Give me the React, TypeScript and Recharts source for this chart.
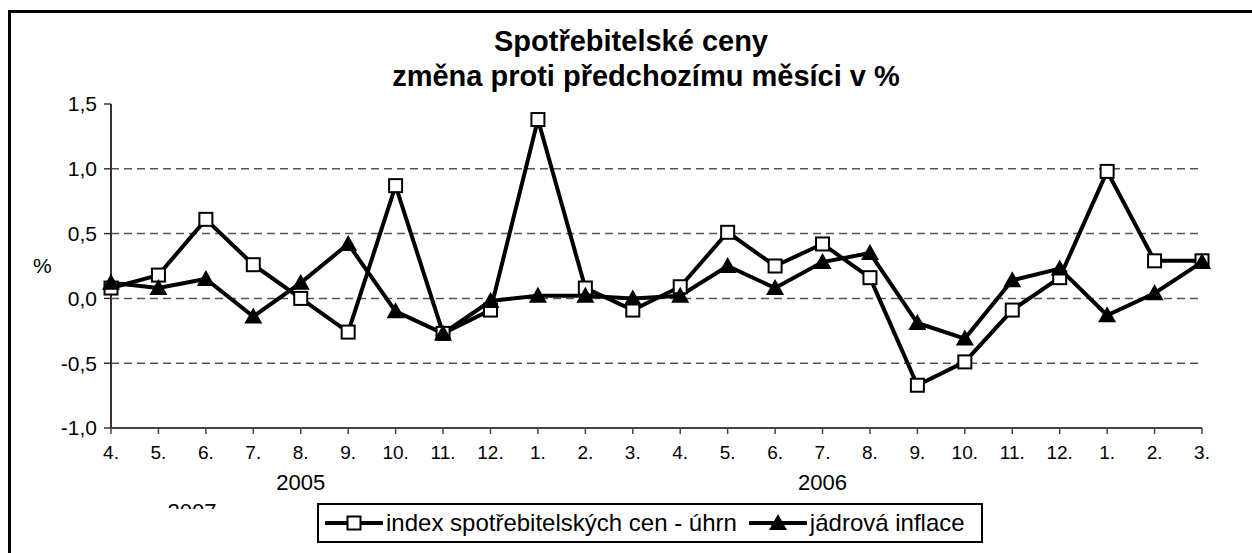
import React from 'react';
import { LineChart, Line, XAxis, YAxis, CartesianGrid } from 'recharts';

const MONTHS = ['4.', '5.', '6.', '7.', '8.', '9.', '10.', '11.', '12.', '1.', '2.', '3.', '4.', '5.', '6.', '7.', '8.', '9.', '10.', '11.', '12.', '1.', '2.', '3.'];
const CPI = [0.08, 0.18, 0.61, 0.26, 0.0, -0.26, 0.87, -0.27, -0.09, 1.38, 0.08, -0.09, 0.09, 0.51, 0.25, 0.42, 0.16, -0.67, -0.49, -0.09, 0.16, 0.98, 0.29, 0.29];
const CORE = [0.12, 0.08, 0.15, -0.14, 0.12, 0.42, -0.1, -0.27, -0.02, 0.02, 0.02, 0.0, 0.02, 0.25, 0.08, 0.28, 0.35, -0.19, -0.31, 0.14, 0.23, -0.13, 0.04, 0.28];
const Y_TICKS = [-1, -0.5, 0, 0.5, 1, 1.5];
const GRID_VALUES = [-0.5, 0, 0.5, 1];
// year caption under the month tick with this index
const YEAR_LABELS: Record<number, string> = { 4: '2005', 15: '2006' };
const SERIES_NAMES = ['index spotřebitelských cen - úhrn', 'jádrová inflace'];

const FONT = '"Liberation Sans", Arial, sans-serif';

const data = MONTHS.map((m, i) => ({ key: `${i}`, month: m, cpi: CPI[i], core: CORE[i] }));

const fmt = (v: number) => v.toFixed(1).replace('.', ',');

const SquareDot = (props: any) => {
  const { cx, cy } = props;
  if (cx == null || cy == null) return null;
  return <rect x={cx - 6.5} y={cy - 6.5} width={13} height={13} fill="#fff" stroke="#000" strokeWidth={2} />;
};

const TriangleDot = (props: any) => {
  const { cx, cy } = props;
  if (cx == null || cy == null) return null;
  return <polygon points={`${cx},${cy - 9} ${cx - 9},${cy + 7} ${cx + 9},${cy + 7}`} fill="#000" />;
};

const MonthTick = (props: any) => {
  const { x, y, index } = props;
  const year = YEAR_LABELS[index];
  return (
    <g>
      <text x={x} y={y} dy="0.71em" textAnchor="middle" fontSize={19} fill="#000" fontFamily={FONT}>
        {MONTHS[index]}
      </text>
      {year && (
        <text x={x} y={y + 44} textAnchor="middle" fontSize={22} fill="#000" fontFamily={FONT}>
          {year}
        </text>
      )}
    </g>
  );
};

const LegendIcon = ({ kind }: { kind: 'square' | 'triangle' }) => (
  <svg width={58} height={20} style={{ display: 'block' }}>
    <line x1={1} y1={10} x2={57} y2={10} stroke="#000" strokeWidth={4} strokeLinecap="round" />
    {kind === 'square' ? (
      <rect x={22.5} y={3.5} width={13} height={13} fill="#fff" stroke="#000" strokeWidth={2} />
    ) : (
      <polygon points="29,1 20,17 38,17" fill="#000" />
    )}
  </svg>
);

export default function App() {
  return (
    <div style={{ position: 'absolute', left: 0, top: 0, width: 1252, height: 553, background: '#fff', overflow: 'hidden', fontFamily: FONT }}>
      {/* outer frame, cut off on the right and bottom */}
      <div style={{ position: 'absolute', left: 8, top: 10, width: 1300, height: 600, borderTop: '3px solid #000', borderLeft: '3px solid #000' }} />

      <div style={{ position: 'absolute', left: 0, width: 1262, top: 25, textAlign: 'center', fontSize: 29, fontWeight: 'bold', lineHeight: '32px' }}>
        Spotřebitelské ceny
      </div>
      <div style={{ position: 'absolute', left: 0, width: 1292, top: 60, textAlign: 'center', fontSize: 29, fontWeight: 'bold', lineHeight: '32px' }}>
        změna proti předchozímu měsíci v %
      </div>

      <div style={{ position: 'absolute', left: 0, top: 0 }}>
        <LineChart width={1252} height={553} data={data} margin={{ top: 104, right: 50, bottom: 95, left: 0 }}>
          <CartesianGrid vertical={false} horizontalValues={GRID_VALUES} stroke="#555" strokeWidth={1.5} strokeDasharray="8 5" />
          <XAxis
            dataKey="key"
            height={30}
            tick={<MonthTick />}
            tickSize={6}
            tickMargin={12}
            interval={0}
            axisLine={{ stroke: '#444', strokeWidth: 2 }}
            tickLine={{ stroke: '#444', strokeWidth: 1.5 }}
          />
          <XAxis xAxisId="top" dataKey="key" orientation="top" height={0} tick={false} tickLine={false} axisLine={{ stroke: '#888', strokeWidth: 2 }} />
          <YAxis
            domain={[-1, 1.5]}
            ticks={Y_TICKS}
            tickFormatter={fmt}
            width={111}
            tickSize={7}
            tickMargin={7}
            tick={{ fontSize: 21, fill: '#000', fontFamily: FONT }}
            axisLine={{ stroke: '#333', strokeWidth: 2 }}
            tickLine={{ stroke: '#333', strokeWidth: 1.5 }}
            label={{ value: '%', position: 'insideLeft', offset: 33, fontSize: 21, fill: '#000', fontFamily: FONT }}
          />
          <YAxis yAxisId="right" orientation="right" domain={[-1, 1.5]} width={0} tick={false} tickLine={false} axisLine={{ stroke: '#888', strokeWidth: 2 }} />
          <Line dataKey="cpi" name={SERIES_NAMES[0]} stroke="#000" strokeWidth={4} dot={<SquareDot />} activeDot={false} isAnimationActive={false} />
          <Line dataKey="core" name={SERIES_NAMES[1]} stroke="#000" strokeWidth={4} dot={<TriangleDot />} activeDot={false} isAnimationActive={false} />
        </LineChart>
      </div>

      {/* stray, clipped year caption as in the source image */}
      <svg style={{ position: 'absolute', left: 150, top: 495 }} width={100} height={14}>
        <text x={42} y={24} textAnchor="middle" fontSize={22} fontFamily={FONT} fill="#000">2007</text>
      </svg>

      <div
        style={{
          position: 'absolute',
          left: 317,
          top: 503,
          width: 662,
          height: 36,
          border: '2px solid #000',
          display: 'flex',
          alignItems: 'center',
          fontSize: 24,
          whiteSpace: 'nowrap',
        }}
      >
        <div style={{ width: 6 }} />
        <LegendIcon kind="square" />
        <span style={{ marginLeft: 3 }}>{SERIES_NAMES[0]}</span>
        <div style={{ width: 12 }} />
        <LegendIcon kind="triangle" />
        <span style={{ marginLeft: 3 }}>{SERIES_NAMES[1]}</span>
      </div>
    </div>
  );
}
